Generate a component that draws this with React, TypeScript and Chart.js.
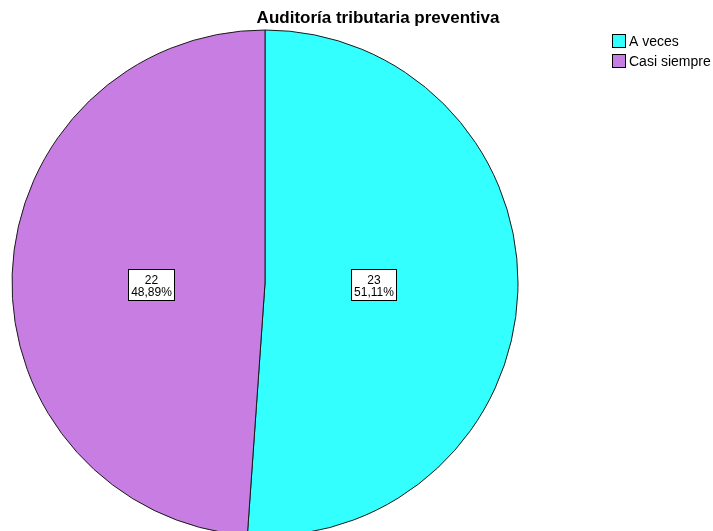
import React, { useEffect, useRef } from "react";
import { Chart, registerables } from "chart.js";

Chart.register(...registerables);

const categories = ["A veces", "Casi siempre"];
const counts = [23, 22];
const percentLabels = ["51,11%", "48,89%"];
const colors = ["#33FFFF", "#C87DE3"];
const titleText = "Auditoría tributaria preventiva";

const W = 713;
const H = 531;
const FONT = '"Liberation Sans", Arial, sans-serif';

const overlayPlugin = {
  id: "overlay",
  afterDatasetsDraw(chart: any) {
    const ctx = chart.ctx;
    const meta = chart.getDatasetMeta(0);
    ctx.save();
    // slice labels
    ctx.font = `12px ${FONT}`;
    meta.data.forEach((arc: any, i: number) => {
      const p = arc.getProps(["x", "y", "startAngle", "endAngle", "outerRadius"], true);
      const mid = (p.startAngle + p.endAngle) / 2;
      const r = p.outerRadius * 0.44;
      const cx = p.x + Math.cos(mid) * r - 3;
      const cy = p.y + 1;
      const l1 = String(counts[i]);
      const l2 = percentLabels[i];
      const tw = Math.max(ctx.measureText(l1).width, ctx.measureText(l2).width);
      const bw = Math.round(tw + 5);
      const bh = 31;
      const bx = Math.round(cx - bw / 2) + 0.5;
      const by = Math.round(cy - bh / 2) + 0.5;
      ctx.fillStyle = "#ffffff";
      ctx.fillRect(bx, by, bw, bh);
      ctx.strokeStyle = "#000000";
      ctx.lineWidth = 1;
      ctx.strokeRect(bx, by, bw, bh);
      ctx.fillStyle = "#000000";
      ctx.textAlign = "center";
      ctx.textBaseline = "alphabetic";
      ctx.fillText(l1, bx + bw / 2, by + 14);
      ctx.fillText(l2, bx + bw / 2, by + 26);
    });
    // title
    ctx.font = `bold 17px ${FONT}`;
    ctx.textAlign = "center";
    ctx.textBaseline = "alphabetic";
    ctx.fillStyle = "#000000";
    ctx.fillText(titleText, 378, 23);
    // legend
    ctx.font = `14px ${FONT}`;
    ctx.textAlign = "left";
    ctx.textBaseline = "middle";
    categories.forEach((c, i) => {
      const y = 34 + i * 20;
      ctx.fillStyle = colors[i];
      ctx.fillRect(612.5, y + 0.5, 13, 13);
      ctx.strokeStyle = "#000000";
      ctx.lineWidth = 1;
      ctx.strokeRect(612.5, y + 0.5, 13, 13);
      ctx.fillStyle = "#000000";
      ctx.fillText(c, 629, y + 8);
    });
    ctx.restore();
  },
};

export default function App() {
  const ref = useRef<HTMLCanvasElement>(null);
  useEffect(() => {
    document.body.style.margin = "0";
    const canvas = ref.current!;
    const chart = new Chart(canvas, {
      type: "pie",
      data: {
        labels: categories,
        datasets: [
          {
            data: counts,
            backgroundColor: colors,
            borderColor: "#1a1a1a",
            borderWidth: 1,
          },
        ],
      },
      options: {
        responsive: false,
        animation: false,
        radius: 253,
        layout: { padding: { left: 0, right: 183, top: 35, bottom: 0 } },
        plugins: {
          legend: { display: false },
          title: { display: false },
          tooltip: { enabled: false },
        },
      } as any,
      plugins: [overlayPlugin],
    });
    return () => chart.destroy();
  }, []);
  return (
    <div style={{ position: "fixed", left: 0, top: 0, width: W, height: H, background: "#fff" }}>
      <canvas ref={ref} width={W} height={H} style={{ width: W, height: H }} />
    </div>
  );
}
